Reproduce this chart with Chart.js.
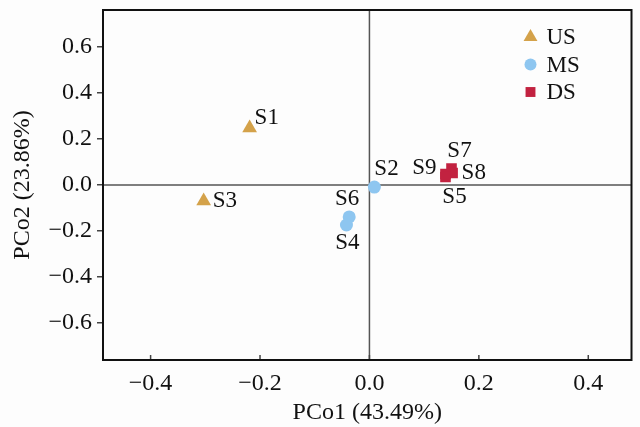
<!DOCTYPE html>
<html>
<head>
<meta charset="utf-8">
<script src="https://cdn.jsdelivr.net/npm/chart.js@4/dist/chart.umd.min.js"></script>
<style>
  html, body { margin: 0; padding: 0; background: #fdfdfd; overflow: hidden; }
  #wrap { width: 640px; height: 427px; }
</style>
</head>
<body>
<div id="wrap"><canvas id="pcoa"></canvas></div>
<script>
// --- data ---
const groups  = ['US', 'MS', 'DS'];
const usNames = ['S1', 'S3'];
const usX     = [-0.219, -0.303];
const usY     = [0.248, -0.070];
const msNames = ['S2', 'S6', 'S4'];
const msX     = [0.009, -0.037, -0.042];
const msY     = [-0.009, -0.139, -0.174];
const dsNames = ['S7', 'S8', 'S9', 'S5'];
const dsX     = [0.150, 0.152, 0.139, 0.139];
const dsY     = [0.072, 0.052, 0.048, 0.035];
const xTicks  = [-0.4, -0.2, 0.0, 0.2, 0.4];
const yTicks  = [-0.6, -0.4, -0.2, 0.0, 0.2, 0.4, 0.6];

// where each sample label sits relative to its marker
const labelPos = {
  S1: 'upright', S3: 'right', S2: 'upright2', S6: 'above', S4: 'below',
  S9: 'left', S7: 'above2', S8: 'right', S5: 'below2'
};

const FONT = 'Liberation Serif';
const colors = { US: '#d4a24a', MS: '#8ec6f0', DS: '#c22240' };
const shapes = { US: 'triangle', MS: 'circle', DS: 'rect' };
const radii  = { US: 8.5, MS: 6.5, DS: 7.5 };

const mk = (name, xs, ys, labels) => ({
  label: name,
  data: xs.map((x, i) => ({ x, y: ys[i], name: labels[i] })),
  pointStyle: shapes[name],
  pointRadius: radii[name],
  pointHoverRadius: radii[name],
  backgroundColor: colors[name],
  borderColor: colors[name],
  borderWidth: 0,
});

const fmt = v => {
  const s = Math.abs(v).toFixed(1);
  return v < -1e-9 ? '\u2212' + s : s;
};

// frame, zero lines, inward x ticks, point labels, legend
const decor = {
  id: 'decor',
  beforeDatasetsDraw(chart) {
    const { ctx, chartArea: a, scales: { x, y } } = chart;
    ctx.save();
    ctx.strokeStyle = '#555';
    ctx.lineWidth = 1.5;
    const x0 = x.getPixelForValue(0), y0 = y.getPixelForValue(0);
    ctx.beginPath();
    ctx.moveTo(x0, a.top); ctx.lineTo(x0, a.bottom);
    ctx.moveTo(a.left, y0); ctx.lineTo(a.right, y0);
    ctx.stroke();
    // inward ticks on bottom axis
    ctx.strokeStyle = '#444';
    ctx.beginPath();
    xTicks.forEach(t => {
      const px = x.getPixelForValue(t);
      ctx.moveTo(px, a.bottom); ctx.lineTo(px, a.bottom - 5);
    });
    ctx.stroke();
    ctx.restore();
  },
  afterDatasetsDraw(chart) {
    const { ctx, chartArea: a } = chart;
    ctx.save();
    ctx.strokeStyle = '#111';
    ctx.lineWidth = 2;
    ctx.strokeRect(a.left, a.top, a.right - a.left, a.bottom - a.top);

    // sample labels
    ctx.fillStyle = '#111';
    ctx.font = '23px "' + FONT + '"';
    ctx.textBaseline = 'middle';
    const off = {
      upright:  [5, -10, 'left'],
      upright2: [0, -18, 'left'],
      right:    [9, 0, 'left'],
      left:     [-9, -6, 'right'],
      above:    [-2, -18, 'center'],
      above2:   [8, -17, 'center'],
      below:    [1, 18, 'center'],
      below2:   [9, 20, 'center'],
    };
    chart.data.datasets.forEach((ds, di) => {
      chart.getDatasetMeta(di).data.forEach((pt, i) => {
        const name = ds.data[i].name;
        const [dx, dy, align] = off[labelPos[name]];
        ctx.textAlign = align;
        ctx.fillText(name, pt.x + dx, pt.y + dy);
      });
    });

    // legend in the upper right corner
    ctx.textAlign = 'left';
    chart.data.datasets.forEach((ds, di) => {
      const ly = a.top + 27 + di * 27.5;
      const lx = a.right - 101;
      ctx.fillStyle = ds.backgroundColor;
      ctx.strokeStyle = ds.backgroundColor;
      Chart.helpers.drawPoint(ctx, {
        pointStyle: ds.pointStyle, radius: ds.pointRadius - 0.5, rotation: 0, borderWidth: 0
      }, lx, ly);
      ctx.fillStyle = '#111';
      ctx.fillText(ds.label, lx + 16, ly + 1);
    });
    ctx.restore();
  }
};

const noPad = s => { s.paddingTop = 0; s.paddingBottom = 0; s.paddingLeft = 0; s.paddingRight = 0; };

function draw() {
  new Chart(document.getElementById('pcoa'), {
    type: 'scatter',
    data: {
      datasets: [
        mk('US', usX, usY, usNames),
        mk('MS', msX, msY, msNames),
        mk('DS', dsX, dsY, dsNames),
      ]
    },
    options: {
      responsive: true,
      maintainAspectRatio: false,
      animation: false,
      layout: { padding: { left: 0, right: 0, top: 10, bottom: 0 } },
      plugins: { legend: { display: false }, tooltip: { enabled: false } },
      scales: {
        x: {
          type: 'linear',
          min: -0.487, max: 0.479,
          afterBuildTicks: s => { s.ticks = xTicks.map(v => ({ value: v })); },
          afterFit: s => { s.height = 67; noPad(s); },
          grid: { display: false, drawTicks: false },
          border: { display: false },
          ticks: { color: '#111', font: { family: FONT, size: 24 }, padding: 9, callback: v => fmt(v) },
          title: { display: true, text: 'PCo1 (43.49%)', color: '#111', font: { family: FONT, size: 24 }, padding: { top: 0, bottom: 0 } },
        },
        y: {
          type: 'linear',
          min: -0.761, max: 0.761,
          afterBuildTicks: s => { s.ticks = yTicks.map(v => ({ value: v })); },
          afterFit: s => { s.width = 103; noPad(s); },
          grid: { drawOnChartArea: false, drawTicks: true, tickLength: 6, color: '#444', lineWidth: 1.5 },
          border: { display: false },
          ticks: { color: '#111', font: { family: FONT, size: 24 }, padding: 5, callback: v => fmt(v) },
          title: { display: true, text: 'PCo2 (23.86%)', color: '#111', font: { family: FONT, size: 24 }, padding: { top: 8, bottom: 0 } },
        }
      }
    },
    plugins: [decor]
  });
}

document.fonts.load('24px "Liberation Serif"').then(draw, draw);
</script>
</body>
</html>
